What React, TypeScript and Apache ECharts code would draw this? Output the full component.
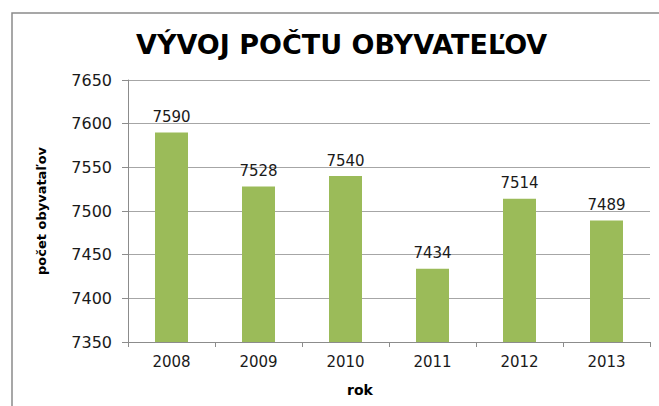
import React, { useEffect, useRef } from "react";
import * as echarts from "echarts";

const titleText = "VÝVOJ POČTU OBYVATEĽOV";
const years = ["2008", "2009", "2010", "2011", "2012", "2013"];
const population = [7590, 7528, 7540, 7434, 7514, 7489];
const yAxisName = "počet obyvataľov";
const xAxisName = "rok";
const yMin = 7350;
const yMax = 7650;
const yStep = 50;

export default function App() {
  const ref = useRef<HTMLDivElement>(null);
  useEffect(() => {
    if (!ref.current) return;
    const chart = echarts.init(ref.current, null, { renderer: "svg" });
    const font = "'DejaVu Sans', 'Open Sans', sans-serif";
    chart.setOption({
      animation: false,
      backgroundColor: "#ffffff",
      title: {
        text: titleText,
        left: 131,
        top: 26,
        textStyle: { fontFamily: font, fontSize: 27, fontWeight: "bold", color: "#000000" },
      },
      grid: { left: 128, right: 9, top: 80, bottom: 64, containLabel: false },
      xAxis: {
        type: "category",
        data: years,
        axisLine: { lineStyle: { color: "#8c8c8c", width: 1 } },
        axisTick: { show: true, length: 5, alignWithLabel: false, lineStyle: { color: "#8c8c8c" } },
        axisLabel: { fontFamily: font, fontSize: 15, color: "#1a1a1a", margin: 12 },
      },
      yAxis: {
        type: "value",
        min: yMin,
        max: yMax,
        interval: yStep,
        name: yAxisName,
        nameLocation: "middle",
        nameGap: 80,
        nameRotate: 90,
        nameTextStyle: { fontFamily: font, fontSize: 13, fontWeight: "bold", color: "#000000" },
        axisLine: { show: true, lineStyle: { color: "#8c8c8c", width: 1 } },
        axisTick: { show: true, length: 6, lineStyle: { color: "#8c8c8c" } },
        axisLabel: {
          fontFamily: font,
          fontSize: 16,
          color: "#1a1a1a",
          margin: 16,
          formatter: (v: number) => String(v),
        },
        splitLine: { lineStyle: { color: "#a6a6a6", width: 1 } },
      },
      series: [
        {
          type: "bar",
          data: population,
          barWidth: 33,
          itemStyle: { color: "#9BBB59" },
          label: {
            show: true,
            position: "top",
            distance: 8,
            fontFamily: font,
            fontSize: 15,
            color: "#1a1a1a",
          },
        },
      ],
      graphic: [
        {
          type: "rect",
          shape: { x: 12, y: 13, width: 720, height: 460 },
          style: { fill: "none", stroke: "#8a8a8a", lineWidth: 1.5 },
          silent: true,
        },
        {
          type: "text",
          x: 360,
          y: 390,
          style: {
            text: xAxisName,
            fontFamily: font,
            fontSize: 14,
            fontWeight: "bold",
            fill: "#000000",
            align: "center",
            verticalAlign: "middle",
          },
        },
      ],
    });
    return () => chart.dispose();
  }, []);
  return <div ref={ref} style={{ width: 659, height: 406, position: "absolute", left: 0, top: 0 }} />;
}
